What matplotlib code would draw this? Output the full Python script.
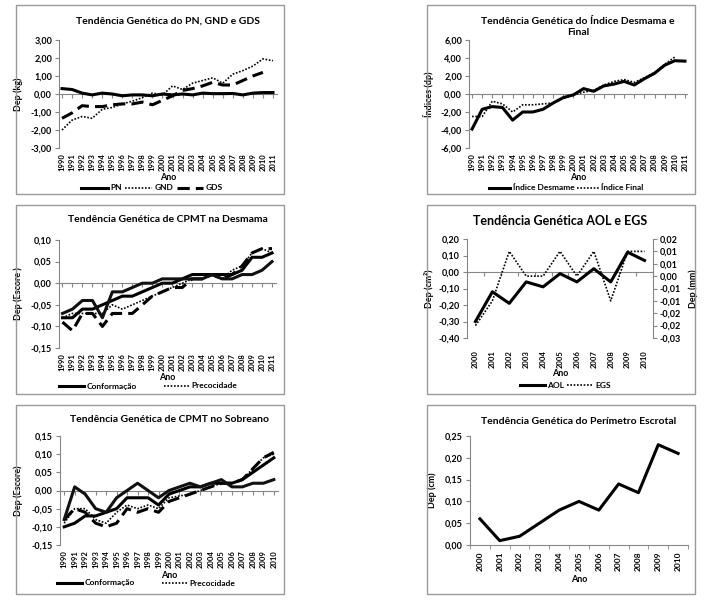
from decimal import Decimal, ROUND_HALF_UP

import matplotlib
matplotlib.use("Agg")
import matplotlib.pyplot as plt
from matplotlib.patches import Rectangle
from matplotlib.ticker import FuncFormatter

# =====================================================
# DADOS
# =====================================================

anos_a = [1990, 1991, 1992, 1993, 1994, 1995, 1996, 1997, 1998, 1999, 2000,
          2001, 2002, 2003, 2004, 2005, 2006, 2007, 2008, 2009, 2010, 2011]
anos_b = anos_a[:-1]
anos_c = [2000, 2001, 2002, 2003, 2004, 2005, 2006, 2007, 2008, 2009, 2010]

# PN, GND, GDS (kg)
pn = [0.30, 0.25, 0.05, -0.05, 0.05, 0.00, -0.10, -0.05, -0.05, -0.10, 0.00,
      -0.05, 0.00, -0.05, 0.05, 0.02, 0.02, 0.03, -0.05, 0.05, 0.08, 0.08]
gnd = [-2.00, -1.45, -1.25, -1.35, -0.85, -0.75, -0.55, -0.40, -0.20, 0.05, -0.05,
       0.45, 0.25, 0.60, 0.75, 0.90, 0.60, 1.10, 1.30, 1.55, 1.95, 1.85]
gds = [-1.35, -1.05, -0.65, -0.70, -0.70, -0.60, -0.55, -0.55, -0.45, -0.60, -0.35,
       -0.10, 0.20, 0.30, 0.45, 0.65, 0.50, 0.50, 0.75, 1.00, 1.20, None]

# Indices (dp)
ind_desmame = [-3.9, -1.7, -1.4, -1.5, -2.9, -2.0, -2.0, -1.7, -1.0, -0.4, -0.1,
               0.6, 0.3, 0.9, 1.1, 1.4, 1.0, 1.7, 2.3, 3.2, 3.7, 3.65]
ind_final = [-2.5, -2.5, -0.8, -1.1, -2.0, -1.2, -1.2, -1.1, -1.0, -0.5, -0.1,
             0.2, 0.4, 1.0, 1.4, 1.6, 1.3, 1.8, 2.4, 3.3, 4.1, None]

# CPMT desmama (escore)
cd_conf = [-0.08, -0.08, -0.06, -0.06, -0.05, -0.04, -0.03, -0.03, -0.02, -0.01, 0.00,
           0.00, 0.01, 0.02, 0.02, 0.02, 0.02, 0.02, 0.03, 0.06, 0.06, 0.07]
cd_prec = [-0.08, -0.07, -0.07, -0.07, -0.07, -0.05, -0.06, -0.05, -0.04, -0.03, -0.02,
           -0.01, 0.00, 0.01, 0.01, 0.02, 0.01, 0.03, 0.04, 0.07, 0.08, 0.07]
cd_musc = [-0.09, -0.11, -0.07, -0.07, -0.10, -0.07, -0.07, -0.07, -0.05, -0.03, -0.02,
           -0.01, -0.01, 0.01, 0.01, 0.02, 0.01, 0.02, 0.04, 0.07, 0.08, 0.08]
cd_tam = [-0.07, -0.06, -0.04, -0.04, -0.08, -0.02, -0.02, -0.01, 0.00, 0.00, 0.01,
          0.01, 0.01, 0.01, 0.01, 0.02, 0.01, 0.01, 0.02, 0.02, 0.03, 0.05]

# CPMT sobreano (escore)
cs_conf = [-0.10, -0.09, -0.07, -0.07, -0.06, -0.05, -0.02, -0.02, -0.02, -0.04, -0.01,
           0.00, 0.01, 0.01, 0.02, 0.02, 0.02, 0.03, 0.05, 0.07, 0.09]
cs_prec = [-0.09, -0.05, -0.05, -0.08, -0.09, -0.06, -0.04, -0.05, -0.04, -0.05, -0.02,
           -0.015, -0.01, 0.00, 0.01, 0.02, 0.02, 0.03, 0.06, 0.09, 0.10]
cs_musc = [-0.08, -0.05, -0.06, -0.09, -0.10, -0.09, -0.05, -0.06, -0.05, -0.06, -0.03,
           -0.02, -0.01, 0.00, 0.01, 0.02, 0.02, 0.03, 0.06, 0.09, 0.105]
cs_tam = [-0.08, 0.01, -0.01, -0.05, -0.06, -0.02, 0.00, 0.02, 0.00, -0.02, 0.00,
          0.01, 0.02, 0.01, 0.02, 0.03, 0.01, 0.01, 0.02, 0.02, 0.03]

# AOL (cm2) e EGS (mm)
aol = [-0.30, -0.12, -0.19, -0.06, -0.09, -0.01, -0.06, 0.02, -0.06, 0.12, 0.07]
egs = [-0.020, -0.010, 0.010, 0.000, 0.000, 0.010, 0.000, 0.010, -0.010, 0.010, 0.010]

# Perimetro escrotal (cm)
pe = [0.06, 0.01, 0.02, 0.05, 0.08, 0.10, 0.08, 0.14, 0.12, 0.23, 0.21]

# =====================================================
# ESTILO
# =====================================================

plt.rcParams["font.family"] = ["Lato", "DejaVu Sans"]
plt.rcParams["font.weight"] = "bold"
plt.rcParams["axes.labelweight"] = "bold"

W, H = 707, 605
GRAY = "#868686"
DOT = (0, (1, 1))
DASH = (0, (4, 2))

fig = plt.figure(figsize=(W / 100, H / 100), dpi=100)


def virgula(v, pos=None):
    d = Decimal(str(round(v, 6))).quantize(Decimal("0.01"), rounding=ROUND_HALF_UP)
    if d == 0:
        d = abs(d)
    return f"{d}".replace(".", ",")


def moldura(x0, y0, x1, y1):
    fig.add_artist(Rectangle((x0 / W, 1 - y1 / H), (x1 - x0) / W, (y1 - y0) / H,
                             transform=fig.transFigure, fill=False,
                             ec="#9a9a9a", lw=1))


def eixo(box, xlim, ylim, yticks, anos, entre=False, zero_linha=True):
    left, top, right, bottom = box
    ax = fig.add_axes([left / W, 1 - bottom / H, (right - left) / W, (bottom - top) / H])
    ax.set_xlim(*xlim)
    ax.set_ylim(*ylim)
    ax.set_yticks(yticks)
    ax.yaxis.set_major_formatter(FuncFormatter(virgula))
    for s in ["top", "right", "bottom"]:
        ax.spines[s].set_visible(False)
    ax.spines["left"].set_color(GRAY)
    ax.tick_params(axis="y", direction="out", length=3, color=GRAY,
                   labelsize=6.5, pad=2)
    ax.set_xticks(range(len(anos)))
    ax.set_xticklabels([str(a) for a in anos], rotation=90)
    ax.tick_params(axis="x", length=0, labelsize=5.5, pad=4 if not entre else 9)
    if entre:
        pos = [i - 0.5 for i in range(len(anos) + 1)]
    else:
        pos = list(range(len(anos)))
    if zero_linha:
        sec = ax.secondary_xaxis(0, transform=ax.transData)
        sec.set_xticks(pos)
        sec.tick_params(labelbottom=False, length=3, color=GRAY, direction="out")
        sec.spines["bottom"].set_color(GRAY)
        sec.spines["bottom"].set_linewidth(0.8)
    else:
        ax.spines["bottom"].set_visible(True)
        ax.spines["bottom"].set_color(GRAY)
        ax.set_xticks(pos, minor=True)
        ax.tick_params(axis="x", which="minor", length=3, color=GRAY, direction="out")
    return ax


def textos(ax, box, titulo, ty, ylab, lx, ano_y, tsize=7.5):
    left, top, right, bottom = box
    h = bottom - top
    w = right - left
    ax.text(0.5, (bottom - ty) / h, titulo, transform=ax.transAxes,
            ha="center", va="center", fontsize=tsize, fontweight="bold",
            linespacing=1.3)
    ax.set_ylabel(ylab, fontsize=6.5)
    ax.yaxis.set_label_coords((lx - left) / w, 0.5)
    ax.set_xlabel("Ano", fontsize=6.5, va="center")
    ax.xaxis.set_label_coords(0.5, (bottom - ano_y) / h)


def legenda(ax, cx, cy, ncol, spacing=1.0, hl=3.2):
    ax.legend(loc="center", bbox_to_anchor=(cx / W, 1 - cy / H),
              bbox_transform=fig.transFigure, ncol=ncol, frameon=False,
              fontsize=6, handlelength=hl, handletextpad=0.3,
              columnspacing=spacing, borderpad=0)


# molduras
for y0, y1 in [(5, 194), (205, 394), (405, 594)]:
    moldura(16, y0, 284, y1)
    moldura(427, y0, 695, y1)

# ---- Painel 1: PN, GND, GDS
b1 = (59, 40, 277, 148)
ax1 = eixo(b1, (-0.3, 21.4), (-3, 3), [-3, -2, -1, 0, 1, 2, 3], anos_a)
x = range(len(anos_a))
ax1.plot(x, pn, color="black", lw=2.2, label="PN")
ax1.plot(x, gnd, color="black", lw=1.2, ls=DOT, label="GND")
ax1.plot(x, [v if v is not None else float("nan") for v in gds],
         color="black", lw=2.2, ls=DASH, label="GDS")
textos(ax1, b1, "Tendência Genética do PN, GND e GDS", 21, "Dep (kg)", 23, 178)
legenda(ax1, 152, 188, 3, spacing=0.4)

# ---- Painel 2: Indices
b2 = (469, 40, 687, 148)
ax2 = eixo(b2, (-0.3, 21.2), (-6, 6), [-6, -4, -2, 0, 2, 4, 6], anos_a)
ax2.plot(x, ind_desmame, color="black", lw=2.2, label="Índice Desmame")
ax2.plot(x, [v if v is not None else float("nan") for v in ind_final],
         color="black", lw=1.2, ls=DOT, label="Índice Final")
textos(ax2, b2, "Tendência Genética do Índice Desmama e\nFinal", 27,
       "Índices (dp)", 434, 178)
legenda(ax2, 566, 188, 2, spacing=0.3, hl=2.6)

# ---- Painel 3: CPMT desmama
b3 = (59, 240, 276, 348)
ax3 = eixo(b3, (-0.35, 21.4), (-0.15, 0.10), [-0.15, -0.10, -0.05, 0, 0.05, 0.10], anos_a)
ax3.plot(x, cd_conf, color="black", lw=2.2, label="Conformação")
ax3.plot(x, cd_prec, color="black", lw=1.2, ls=DOT, label="Precocidade")
ax3.plot(x, cd_musc, color="black", lw=2.2, ls=DASH)
ax3.plot(x, cd_tam, color="#111111", lw=2.2)
textos(ax3, b3, "Tendência Genética de CPMT na Desmama", 220, "Dep (Escore )", 23, 378)
legenda(ax3, 148, 386, 2, spacing=3.2, hl=3.0)

# ---- Painel 4: AOL e EGS
b4 = (467, 239, 653, 338)
xc = range(len(anos_c))
ax4 = eixo(b4, (-0.5, 10.5), (-0.40, 0.20),
           [-0.40, -0.30, -0.20, -0.10, 0, 0.10, 0.20], anos_c, entre=True)
ax4b = ax4.twinx()
ax4b.set_ylim(-0.025, 0.015)
ax4b.set_yticks([-0.025, -0.02, -0.015, -0.01, -0.005, 0, 0.005, 0.01, 0.015])
ax4b.yaxis.set_major_formatter(FuncFormatter(virgula))
for s in ["top", "left", "bottom"]:
    ax4b.spines[s].set_visible(False)
ax4b.spines["right"].set_color(GRAY)
ax4b.tick_params(axis="y", direction="out", length=3, color=GRAY, labelsize=6.5, pad=2)
l1, = ax4.plot(xc, aol, color="black", lw=2.2, label="AOL")
l2, = ax4b.plot(xc, egs, color="black", lw=1.2, ls=DOT, label="EGS")
textos(ax4, b4, "Tendência Genética AOL e EGS", 221, "Dep (cm²)", 434, 374, tsize=9)
ax4b.set_ylabel("Dep (mm)", fontsize=6.5)
ax4b.yaxis.set_label_coords((688 - 467) / (653 - 467), 0.5)
ax4b.legend([l1, l2], ["AOL", "EGS"], loc="center",
            bbox_to_anchor=(565 / W, 1 - 385 / H), bbox_transform=fig.transFigure,
            ncol=2, frameon=False, fontsize=6, handlelength=3.0,
            handletextpad=0.3, columnspacing=0.4, borderpad=0)

# ---- Painel 5: CPMT sobreano
b5 = (60, 436, 278, 545)
xb = range(len(anos_b))
ax5 = eixo(b5, (-0.4, 20.4), (-0.15, 0.15),
           [-0.15, -0.10, -0.05, 0, 0.05, 0.10, 0.15], anos_b)
ax5.plot(xb, cs_conf, color="black", lw=2.2, label="Conformação")
ax5.plot(xb, cs_prec, color="black", lw=1.2, ls=DOT, label="Precocidade")
ax5.plot(xb, cs_musc, color="black", lw=2.2, ls=DASH)
ax5.plot(xb, cs_tam, color="#111111", lw=2.2)
textos(ax5, b5, "Tendência Genética de CPMT no Sobreano", 420, "Dep (Escore)", 23, 575)
legenda(ax5, 146, 583, 2, spacing=3.2, hl=3.0)

# ---- Painel 6: Perimetro escrotal
b6 = (470, 436, 688, 545)
ax6 = eixo(b6, (-0.5, 10.5), (0, 0.25), [0, 0.05, 0.10, 0.15, 0.20, 0.25],
           anos_c, entre=True, zero_linha=False)
ax6.tick_params(axis="x", which="major", pad=5, labelsize=6)
ax6.plot(xc, pe, color="black", lw=2.2)
textos(ax6, b6, "Tendência Genética do Perímetro Escrotal", 421, "Dep (cm)", 437, 580)

plt.savefig("out.png", dpi=100)
plt.close()
